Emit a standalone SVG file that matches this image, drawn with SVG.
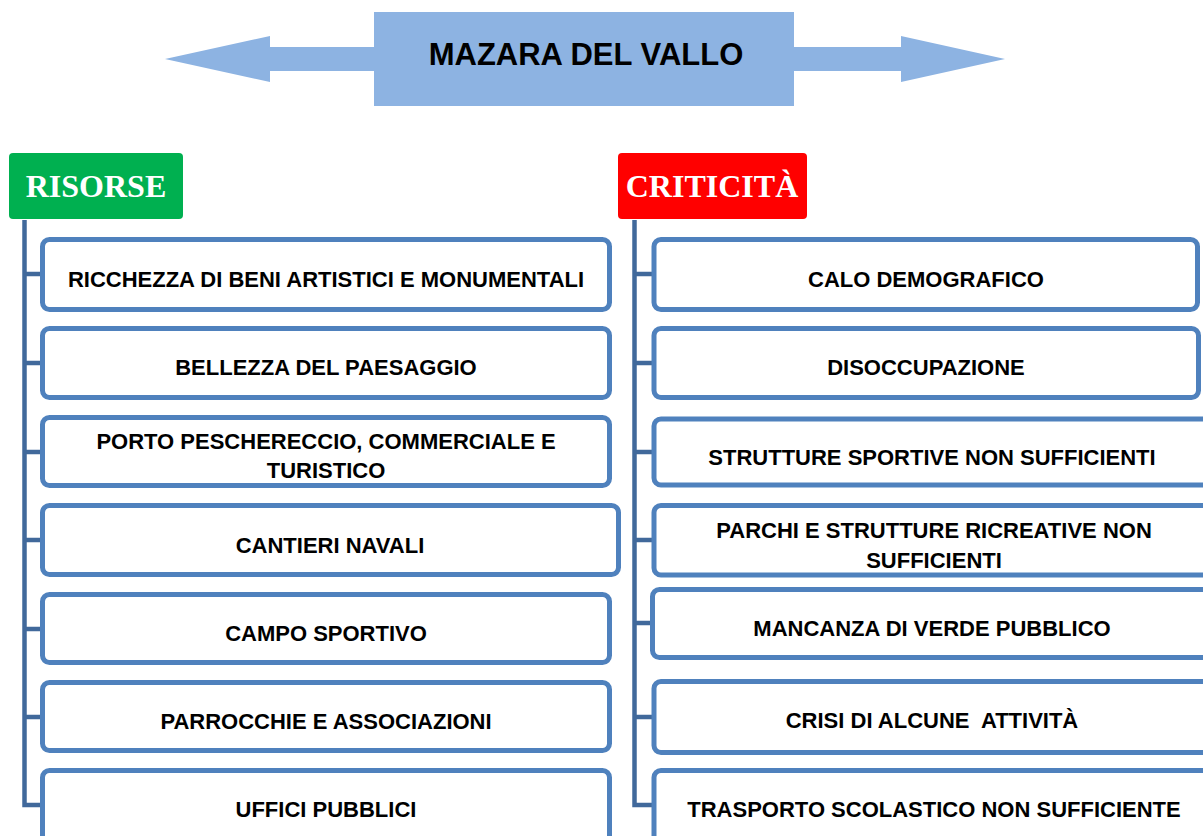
<svg xmlns="http://www.w3.org/2000/svg" width="1203" height="836" viewBox="0 0 1203 836">
<style>
.title{fill:#8DB3E2}
.hdr{font-family:"Liberation Serif","Times New Roman",serif;font-weight:bold;font-size:32px;fill:#fff;text-anchor:middle}
.box{fill:#fff;stroke:#4F81BD;stroke-width:5}
.lbl{font-family:"Liberation Sans",Arial,sans-serif;font-weight:bold;font-size:22px;fill:#000;text-anchor:middle;white-space:pre}
.conn{fill:none;stroke:#41699B;stroke-width:4.5}
</style>
<rect width="1203" height="836" fill="#fff"/>
<g id="title">
<polygon class="title" points="165,59 270,36 270,47 380,47 380,71 270,71 270,82"/>
<polygon class="title" points="790,47 901,47 901,36 1005,59 901,82 901,71 790,71"/>
<rect class="title" x="374" y="12" width="420" height="94"/>
<text x="586" y="65" font-family="'Liberation Sans',Arial,sans-serif" font-weight="bold" font-size="31" text-anchor="middle" fill="#000">MAZARA DEL VALLO</text>
</g>
<g id="connectors">
<path class="conn" d="M24.5,220 V805 H42 M24.5,274 H42 M24.5,363 H42 M24.5,452 H42 M24.5,540 H42 M24.5,629 H42 M24.5,717 H42"/>
<path class="conn" d="M634.5,220 V805 H653 M634.5,274 H653 M634.5,363 H653 M634.5,452 H653 M634.5,540 H653 M634.5,623 H652 M634.5,717 H653"/>
</g>
<g id="risorse">
<rect x="9" y="153" width="174" height="66" rx="4" fill="#00B050"/>
<text class="hdr" x="96" y="197">RISORSE</text>
</g>
<g id="criticita">
<rect x="618" y="153" width="189" height="66" rx="4" fill="#FF0000"/>
<text class="hdr" x="712" y="197">CRITICITÀ</text>
</g>
<g id="r1"><rect class="box" x="42.5" y="239.5" width="567" height="70" rx="7"/><text class="lbl" x="326" y="287">RICCHEZZA DI BENI ARTISTICI E MONUMENTALI</text></g>
<g id="r2"><rect class="box" x="42.5" y="328.5" width="567" height="69" rx="7"/><text class="lbl" x="326" y="375">BELLEZZA DEL PAESAGGIO</text></g>
<g id="r3"><rect class="box" x="42.5" y="417.5" width="567" height="68" rx="7"/><text class="lbl" x="326" y="449">PORTO PESCHERECCIO, COMMERCIALE E</text><text class="lbl" x="326" y="478">TURISTICO</text></g>
<g id="r4"><rect class="box" x="42.5" y="505.5" width="576" height="69" rx="7"/><text class="lbl" x="330" y="553">CANTIERI NAVALI</text></g>
<g id="r5"><rect class="box" x="42.5" y="594.5" width="567" height="68" rx="7"/><text class="lbl" x="326" y="641">CAMPO SPORTIVO</text></g>
<g id="r6"><rect class="box" x="42.5" y="682.5" width="567" height="68" rx="7"/><text class="lbl" x="326" y="729">PARROCCHIE E ASSOCIAZIONI</text></g>
<g id="r7"><rect class="box" x="42.5" y="770.5" width="567" height="72" rx="7"/><text class="lbl" x="326" y="817">UFFICI PUBBLICI</text></g>
<g id="c1"><rect class="box" x="654" y="239.5" width="543.5" height="70" rx="7"/><text class="lbl" x="926" y="287">CALO DEMOGRAFICO</text></g>
<g id="c2"><rect class="box" x="654" y="328.5" width="544.5" height="69" rx="7"/><text class="lbl" x="926" y="375">DISOCCUPAZIONE</text></g>
<g id="c3"><rect class="box" x="654" y="419" width="556" height="66" rx="7"/><text class="lbl" x="932" y="465">STRUTTURE SPORTIVE NON SUFFICIENTI</text></g>
<g id="c4"><rect class="box" x="654" y="505.5" width="560" height="69.5" rx="7"/><text class="lbl" x="934" y="538">PARCHI E STRUTTURE RICREATIVE NON</text><text class="lbl" x="934" y="568">SUFFICIENTI</text></g>
<g id="c5"><rect class="box" x="652.5" y="589.5" width="560" height="68" rx="7"/><text class="lbl" x="932" y="636">MANCANZA DI VERDE PUBBLICO</text></g>
<g id="c6"><rect class="box" x="654" y="681.5" width="560" height="71" rx="7"/><text class="lbl" x="932" y="728">CRISI DI ALCUNE  ATTIVITÀ</text></g>
<g id="c7"><rect class="box" x="654" y="770.5" width="560" height="72" rx="7"/><text class="lbl" x="934" y="817">TRASPORTO SCOLASTICO NON SUFFICIENTE</text></g>
</svg>
